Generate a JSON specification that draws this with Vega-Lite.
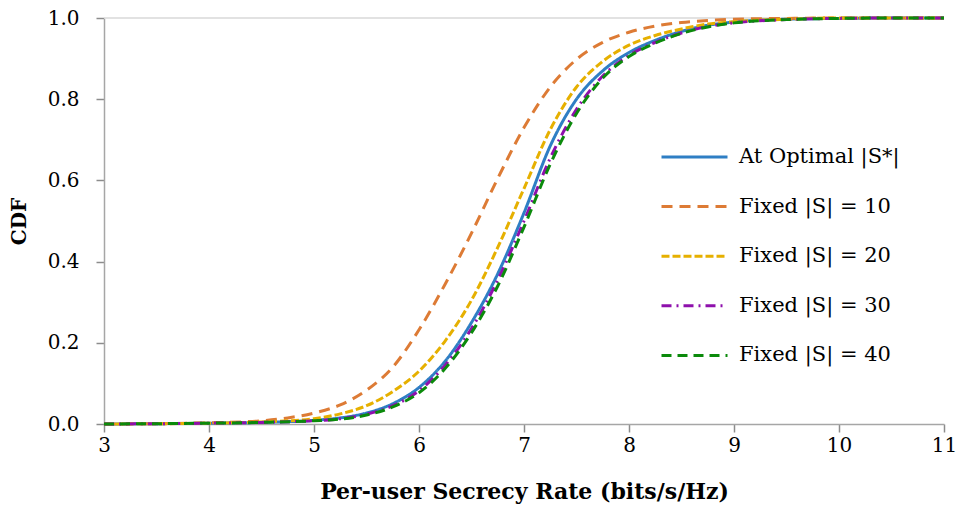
{
  "$schema": "https://vega.github.io/schema/vega-lite/v6.json",
  "width": 840,
  "height": 406,
  "autosize": "none",
  "padding": {"left": 104, "top": 18, "right": 16, "bottom": 91},
  "background": "white",
  "config": {
    "font": "DejaVu Serif",
    "view": {"stroke": null},
    "axis": {
      "grid": false,
      "domainColor": "#A6A6A6",
      "domainWidth": 1.5,
      "labelFont": "DejaVu Serif",
      "labelFontSize": 20,
      "labelColor": "#000000",
      "titleFont": "DejaVu Serif",
      "titleFontWeight": "bold",
      "titleColor": "#000000"
    },
    "legend": {
      "labelFont": "DejaVu Serif",
      "labelFontSize": 21,
      "labelColor": "#000000",
      "labelLimit": 400
    }
  },
  "datasets": {
    "curves": [
      {"x": 3, "y": 0, "series": "At Optimal |S*|"},
      {"x": 4, "y": 0.002, "series": "At Optimal |S*|"},
      {"x": 4.5, "y": 0.004, "series": "At Optimal |S*|"},
      {"x": 5, "y": 0.009, "series": "At Optimal |S*|"},
      {"x": 5.25, "y": 0.015, "series": "At Optimal |S*|"},
      {"x": 5.5, "y": 0.027, "series": "At Optimal |S*|"},
      {"x": 5.75, "y": 0.05, "series": "At Optimal |S*|"},
      {"x": 6.0, "y": 0.09, "series": "At Optimal |S*|"},
      {"x": 6.25, "y": 0.155, "series": "At Optimal |S*|"},
      {"x": 6.5, "y": 0.25, "series": "At Optimal |S*|"},
      {"x": 6.75, "y": 0.37, "series": "At Optimal |S*|"},
      {"x": 7.0, "y": 0.52, "series": "At Optimal |S*|"},
      {"x": 7.25, "y": 0.685, "series": "At Optimal |S*|"},
      {"x": 7.5, "y": 0.8, "series": "At Optimal |S*|"},
      {"x": 7.75, "y": 0.87, "series": "At Optimal |S*|"},
      {"x": 8.0, "y": 0.915, "series": "At Optimal |S*|"},
      {"x": 8.25, "y": 0.945, "series": "At Optimal |S*|"},
      {"x": 8.5, "y": 0.967, "series": "At Optimal |S*|"},
      {"x": 8.75, "y": 0.982, "series": "At Optimal |S*|"},
      {"x": 9.0, "y": 0.99, "series": "At Optimal |S*|"},
      {"x": 9.5, "y": 0.997, "series": "At Optimal |S*|"},
      {"x": 10, "y": 0.999, "series": "At Optimal |S*|"},
      {"x": 10.5, "y": 1, "series": "At Optimal |S*|"},
      {"x": 11, "y": 1, "series": "At Optimal |S*|"},

      {"x": 3, "y": 0, "series": "Fixed |S| = 10"},
      {"x": 3.5, "y": 0.001, "series": "Fixed |S| = 10"},
      {"x": 4, "y": 0.003, "series": "Fixed |S| = 10"},
      {"x": 4.5, "y": 0.008, "series": "Fixed |S| = 10"},
      {"x": 4.75, "y": 0.015, "series": "Fixed |S| = 10"},
      {"x": 5.0, "y": 0.027, "series": "Fixed |S| = 10"},
      {"x": 5.25, "y": 0.047, "series": "Fixed |S| = 10"},
      {"x": 5.5, "y": 0.083, "series": "Fixed |S| = 10"},
      {"x": 5.75, "y": 0.14, "series": "Fixed |S| = 10"},
      {"x": 6.0, "y": 0.232, "series": "Fixed |S| = 10"},
      {"x": 6.25, "y": 0.345, "series": "Fixed |S| = 10"},
      {"x": 6.5, "y": 0.47, "series": "Fixed |S| = 10"},
      {"x": 6.75, "y": 0.605, "series": "Fixed |S| = 10"},
      {"x": 7.0, "y": 0.73, "series": "Fixed |S| = 10"},
      {"x": 7.25, "y": 0.83, "series": "Fixed |S| = 10"},
      {"x": 7.5, "y": 0.898, "series": "Fixed |S| = 10"},
      {"x": 7.75, "y": 0.94, "series": "Fixed |S| = 10"},
      {"x": 8.0, "y": 0.965, "series": "Fixed |S| = 10"},
      {"x": 8.25, "y": 0.98, "series": "Fixed |S| = 10"},
      {"x": 8.5, "y": 0.989, "series": "Fixed |S| = 10"},
      {"x": 8.75, "y": 0.994, "series": "Fixed |S| = 10"},
      {"x": 9.0, "y": 0.997, "series": "Fixed |S| = 10"},
      {"x": 9.5, "y": 0.999, "series": "Fixed |S| = 10"},
      {"x": 10, "y": 1, "series": "Fixed |S| = 10"},
      {"x": 11, "y": 1, "series": "Fixed |S| = 10"},

      {"x": 3, "y": 0, "series": "Fixed |S| = 20"},
      {"x": 4, "y": 0.002, "series": "Fixed |S| = 20"},
      {"x": 4.5, "y": 0.005, "series": "Fixed |S| = 20"},
      {"x": 5.0, "y": 0.013, "series": "Fixed |S| = 20"},
      {"x": 5.25, "y": 0.025, "series": "Fixed |S| = 20"},
      {"x": 5.5, "y": 0.045, "series": "Fixed |S| = 20"},
      {"x": 5.75, "y": 0.08, "series": "Fixed |S| = 20"},
      {"x": 6.0, "y": 0.13, "series": "Fixed |S| = 20"},
      {"x": 6.25, "y": 0.205, "series": "Fixed |S| = 20"},
      {"x": 6.5, "y": 0.305, "series": "Fixed |S| = 20"},
      {"x": 6.75, "y": 0.435, "series": "Fixed |S| = 20"},
      {"x": 7.0, "y": 0.58, "series": "Fixed |S| = 20"},
      {"x": 7.25, "y": 0.725, "series": "Fixed |S| = 20"},
      {"x": 7.5, "y": 0.83, "series": "Fixed |S| = 20"},
      {"x": 7.75, "y": 0.893, "series": "Fixed |S| = 20"},
      {"x": 8.0, "y": 0.933, "series": "Fixed |S| = 20"},
      {"x": 8.25, "y": 0.957, "series": "Fixed |S| = 20"},
      {"x": 8.5, "y": 0.973, "series": "Fixed |S| = 20"},
      {"x": 8.75, "y": 0.985, "series": "Fixed |S| = 20"},
      {"x": 9.0, "y": 0.991, "series": "Fixed |S| = 20"},
      {"x": 9.5, "y": 0.997, "series": "Fixed |S| = 20"},
      {"x": 10, "y": 1, "series": "Fixed |S| = 20"},
      {"x": 11, "y": 1, "series": "Fixed |S| = 20"},

      {"x": 3, "y": 0, "series": "Fixed |S| = 30"},
      {"x": 4, "y": 0.002, "series": "Fixed |S| = 30"},
      {"x": 4.5, "y": 0.004, "series": "Fixed |S| = 30"},
      {"x": 5.0, "y": 0.008, "series": "Fixed |S| = 30"},
      {"x": 5.25, "y": 0.013, "series": "Fixed |S| = 30"},
      {"x": 5.5, "y": 0.024, "series": "Fixed |S| = 30"},
      {"x": 5.75, "y": 0.045, "series": "Fixed |S| = 30"},
      {"x": 6.0, "y": 0.082, "series": "Fixed |S| = 30"},
      {"x": 6.25, "y": 0.145, "series": "Fixed |S| = 30"},
      {"x": 6.5, "y": 0.235, "series": "Fixed |S| = 30"},
      {"x": 6.75, "y": 0.355, "series": "Fixed |S| = 30"},
      {"x": 7.0, "y": 0.5, "series": "Fixed |S| = 30"},
      {"x": 7.25, "y": 0.655, "series": "Fixed |S| = 30"},
      {"x": 7.5, "y": 0.775, "series": "Fixed |S| = 30"},
      {"x": 7.75, "y": 0.857, "series": "Fixed |S| = 30"},
      {"x": 8.0, "y": 0.908, "series": "Fixed |S| = 30"},
      {"x": 8.25, "y": 0.94, "series": "Fixed |S| = 30"},
      {"x": 8.5, "y": 0.963, "series": "Fixed |S| = 30"},
      {"x": 8.75, "y": 0.979, "series": "Fixed |S| = 30"},
      {"x": 9.0, "y": 0.988, "series": "Fixed |S| = 30"},
      {"x": 9.5, "y": 0.996, "series": "Fixed |S| = 30"},
      {"x": 10, "y": 0.999, "series": "Fixed |S| = 30"},
      {"x": 10.5, "y": 1, "series": "Fixed |S| = 30"},
      {"x": 11, "y": 1, "series": "Fixed |S| = 30"},

      {"x": 3, "y": 0, "series": "Fixed |S| = 40"},
      {"x": 4, "y": 0.002, "series": "Fixed |S| = 40"},
      {"x": 4.5, "y": 0.004, "series": "Fixed |S| = 40"},
      {"x": 5.0, "y": 0.008, "series": "Fixed |S| = 40"},
      {"x": 5.25, "y": 0.012, "series": "Fixed |S| = 40"},
      {"x": 5.5, "y": 0.022, "series": "Fixed |S| = 40"},
      {"x": 5.75, "y": 0.042, "series": "Fixed |S| = 40"},
      {"x": 6.0, "y": 0.077, "series": "Fixed |S| = 40"},
      {"x": 6.25, "y": 0.137, "series": "Fixed |S| = 40"},
      {"x": 6.5, "y": 0.225, "series": "Fixed |S| = 40"},
      {"x": 6.75, "y": 0.34, "series": "Fixed |S| = 40"},
      {"x": 7.0, "y": 0.485, "series": "Fixed |S| = 40"},
      {"x": 7.25, "y": 0.64, "series": "Fixed |S| = 40"},
      {"x": 7.5, "y": 0.765, "series": "Fixed |S| = 40"},
      {"x": 7.75, "y": 0.852, "series": "Fixed |S| = 40"},
      {"x": 8.0, "y": 0.905, "series": "Fixed |S| = 40"},
      {"x": 8.25, "y": 0.938, "series": "Fixed |S| = 40"},
      {"x": 8.5, "y": 0.962, "series": "Fixed |S| = 40"},
      {"x": 8.75, "y": 0.978, "series": "Fixed |S| = 40"},
      {"x": 9.0, "y": 0.988, "series": "Fixed |S| = 40"},
      {"x": 9.5, "y": 0.996, "series": "Fixed |S| = 40"},
      {"x": 10, "y": 0.999, "series": "Fixed |S| = 40"},
      {"x": 10.5, "y": 1, "series": "Fixed |S| = 40"},
      {"x": 11, "y": 1, "series": "Fixed |S| = 40"}
    ],
    "grid": [{"y": 1}]
  },
  "layer": [
    {
      "data": {"name": "grid"},
      "mark": {"type": "rule", "color": "#D9D9D9", "strokeWidth": 1.5},
      "encoding": {
        "y": {"field": "y", "type": "quantitative", "scale": {"domain": [0, 1], "nice": false}, "axis": {"values": [0, 0.2, 0.4, 0.6, 0.8, 1.0], "format": ".1f", "labelFlush": false, "ticks": true, "tickSize": 8, "tickWidth": 1.5, "tickColor": "#8C8C8C", "labelPadding": 17, "titlePadding": 18, "titleFontSize": 20, "title": "CDF"}}
      }
    },
    {
      "data": {"name": "curves"},
      "mark": {"type": "line", "strokeWidth": 3, "interpolate": "monotone"},
      "encoding": {
        "x": {
          "field": "x", "type": "quantitative",
          "scale": {"domain": [3, 11], "nice": false, "zero": false},
          "axis": {"values": [3, 4, 5, 6, 7, 8, 9, 10, 11], "format": "d", "labelFlush": false, "ticks": true, "tickSize": 8, "tickWidth": 1.5, "tickColor": "#8C8C8C", "labelPadding": 3, "titlePadding": 26, "titleFontSize": 22, "title": "Per-user Secrecy Rate (bits/s/Hz)"}
        },
        "y": {
          "field": "y", "type": "quantitative",
          "scale": {"domain": [0, 1], "nice": false},
          "axis": {"values": [0, 0.2, 0.4, 0.6, 0.8, 1.0], "format": ".1f", "labelFlush": false, "ticks": true, "tickSize": 8, "tickWidth": 1.5, "tickColor": "#8C8C8C", "labelPadding": 17, "titlePadding": 18, "titleFontSize": 20, "title": "CDF"}
        },
        "color": {
          "field": "series", "type": "nominal",
          "scale": {
            "domain": ["At Optimal |S*|", "Fixed |S| = 10", "Fixed |S| = 20", "Fixed |S| = 30", "Fixed |S| = 40"],
            "range": ["#2E7EC4", "#DD7B35", "#E6B000", "#8E10AC", "#0B8A0B"]
          },
          "legend": {
            "title": null,
            "orient": "none",
            "legendX": 556,
            "legendY": 129,
            "padding": 0,
            "symbolType": "stroke",
            "symbolSize": 4356,
            "symbolStrokeWidth": 3,
            "clipHeight": 20,
            "rowPadding": 28.6,
            "labelOffset": 10,
            "labelLimit": 400
          }
        },
        "strokeDash": {
          "field": "series", "type": "nominal",
          "scale": {
            "domain": ["At Optimal |S*|", "Fixed |S| = 10", "Fixed |S| = 20", "Fixed |S| = 30", "Fixed |S| = 40"],
            "range": [[1, 0], [11, 7], [8, 3], [10, 5, 2, 5], [10, 6]]
          },
          "legend": null
        }
      }
    }
  ]
}
